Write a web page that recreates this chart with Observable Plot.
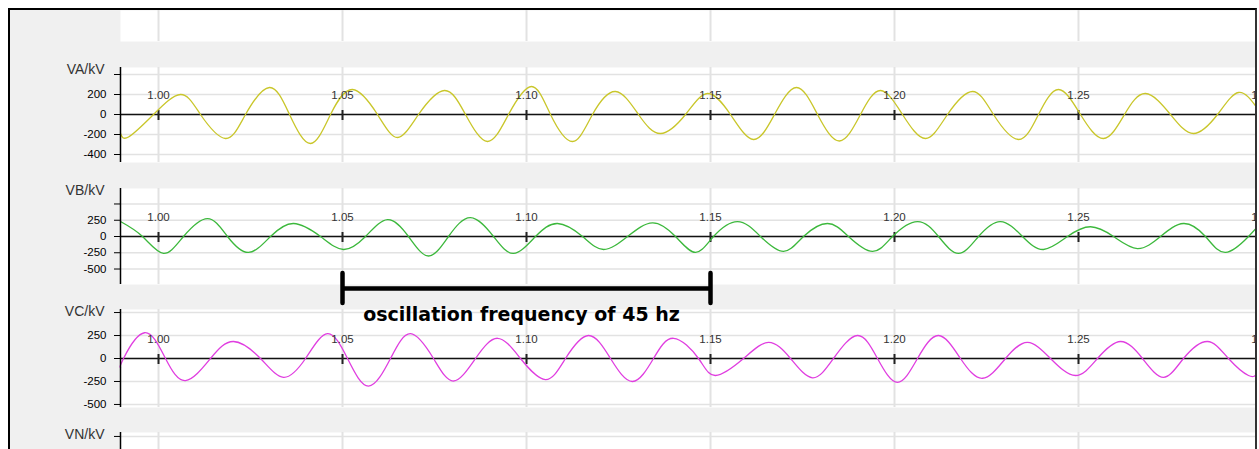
<!DOCTYPE html>
<html><head><meta charset="utf-8">
<script src="https://cdn.jsdelivr.net/npm/d3@7"></script>
<script src="https://cdn.jsdelivr.net/npm/@observablehq/plot@0.6"></script>
<style>
html,body{margin:0;padding:0;background:#fff;}
#frame{position:absolute;left:8px;top:8px;width:1245px;height:441px;border-left:2px solid #000;border-top:2px solid #000;border-right:2px solid #333;background:#f0f0f0;overflow:hidden;}
#frame svg{display:block;position:relative;}
#overlay{position:absolute;left:0;top:261px;}
</style></head><body>
<div id="frame"><div id="stack"></div><div id="overlay"></div></div>
<script>
// ---------- data ----------
const xTicks = [1.00, 1.05, 1.10, 1.15, 1.20, 1.25, 1.30];
const xTickLabels = ["1.00", "1.05", "1.10", "1.15", "1.20", "1.25", "1.30"];
const xDomain = [0.98967, 1.29810];
const panelNames = ["VA/kV", "VB/kV", "VC/kV", "VN/kV"];

const vaTime = [0.98967,0.99185,0.99864,1.00598,1.01141,1.01821,1.02364,1.03016,1.03560,1.04130,1.04674,1.05272,1.05951,1.06495,1.07065,1.07772,1.08342,1.08940,1.09511,1.10136,1.10652,1.11250,1.11793,1.12418,1.13043,1.13641,1.14321,1.14918,1.15543,1.16168,1.16739,1.17337,1.17908,1.18505,1.19076,1.19620,1.20217,1.20842,1.21440,1.22120,1.22690,1.23370,1.23913,1.24457,1.25054,1.25679,1.26250,1.26821,1.27500,1.28125,1.28777,1.29348,1.29864];
const vaValue = [-190,-225,0,200,0,-240,0,270,0,-290,0,250,0,-230,0,240,0,-270,0,280,0,-270,0,230,0,-190,0,210,0,-250,0,270,0,-265,0,240,0,-240,0,230,0,-250,0,250,0,-240,0,210,0,-190,0,220,60];

const vbTime = [0.98967,0.99565,1.00136,1.00679,1.01332,1.01875,1.02446,1.03043,1.03668,1.04402,1.05027,1.05625,1.06223,1.06793,1.07337,1.07880,1.08478,1.09103,1.09647,1.10245,1.10842,1.11522,1.12092,1.12745,1.13424,1.14049,1.14592,1.15082,1.15734,1.16359,1.16984,1.17527,1.18179,1.18750,1.19402,1.19946,1.20625,1.21196,1.21739,1.22283,1.22880,1.23478,1.24049,1.24701,1.25326,1.25951,1.26603,1.27228,1.27853,1.28451,1.28995,1.29620,1.29864];
const vbValue = [230,0,-260,0,275,0,-245,0,200,0,-200,0,260,0,-300,0,290,0,-260,0,200,0,-200,0,210,0,-245,0,230,0,-230,0,200,0,-230,0,230,0,-260,0,230,0,-200,0,150,0,-185,0,200,0,-245,0,150];

const vcTime = [0.98967,0.99049,0.99620,1.00190,1.00734,1.01413,1.02038,1.02772,1.03397,1.03995,1.04592,1.05136,1.05707,1.06304,1.06848,1.07473,1.08016,1.08614,1.09212,1.09837,1.10516,1.11060,1.11685,1.12283,1.12880,1.13451,1.13995,1.14674,1.15136,1.15897,1.16576,1.17174,1.17772,1.18342,1.18995,1.19538,1.20082,1.20625,1.21196,1.21793,1.22391,1.23016,1.23614,1.24239,1.24918,1.25516,1.26141,1.26739,1.27310,1.27853,1.28505,1.29076,1.29620,1.29864];
const vcValue = [-100,0,280,0,-240,0,185,0,-205,0,270,0,-300,0,270,0,-245,0,220,0,-230,0,250,0,-250,0,220,0,-185,0,175,0,-210,0,250,0,-260,0,250,0,-215,0,175,0,-185,0,185,0,-205,0,185,0,-185,-165];

const vaTicks = [400, 200, 0, -200, -400];
const vaTickLabels = ["", "200", "0", "-200", "-400"];
const vbTicks = [500, 250, 0, -250, -500];
const vbTickLabels = ["", "250", "0", "-250", "-500"];
const vcTicks = [500, 250, 0, -250, -500];
const vcTickLabels = ["", "250", "0", "-250", "-500"];
const vnTicks = [500];
const vnTickLabels = [""];

const vaDomain = [-480, 470];
const vbDomain = [-738, 738];
const vcDomain = [-533, 533];
const vnDomain = [358, 543];

const seriesColors = ["#c9c62a", "#3cb83c", "#e03ee0"];

const bracketEnds = [1.05, 1.15];
const annotationText = ["oscillation frequency of 45 hz"];

// ---------- drawing ----------
const W = 1245;
const baseStyle = {background: "transparent", fontFamily: "'Liberation Sans', Arial, sans-serif", fontSize: "11.5px", color: "#000", overflow: "visible"};
const gridColor = "#e2e2e2";

function panel({height, marginTop, name, time, value, color, ticks, tickLabels, domain, zero = true}) {
  const fmt = new Map(ticks.map((t, i) => [t, tickLabels[i]]));
  const rows = time ? time.map((t, i) => ({t, v: value[i]})) : [];
  const marks = [
    Plot.frame({fill: "white", stroke: "none"}),
    Plot.ruleX(xTicks, {stroke: gridColor, strokeWidth: 2}),
    Plot.ruleY(ticks, {stroke: gridColor, strokeWidth: 1.5})
  ];
  if (zero) {
    marks.push(
      Plot.ruleY([0], {stroke: "#111", strokeWidth: 1.5}),
      Plot.ruleX(xTicks, {y1: 0, y2: 0, insetTop: -4, insetBottom: -6, stroke: "#222", strokeWidth: 2}),
      Plot.line(rows, {x: "t", y: "v", stroke: color, strokeWidth: 1.3, curve: "natural"}),
      Plot.text(xTicks, {x: d => d, y: 0, text: (d, i) => xTickLabels[i], dy: -19, fill: "#333", fontSize: 11.5})
    );
  }
  marks.push(
    Plot.ruleX([xDomain[0]], {stroke: "#000", strokeWidth: 1.5}),
    Plot.text([name], {frameAnchor: "top-left", dx: -16, dy: 2, textAnchor: "end", lineAnchor: "middle", fontSize: 14, fill: "#333"})
  );
  return Plot.plot({
    width: W, height, marginLeft: 110, marginRight: 0, marginTop, marginBottom: 0,
    x: {domain: xDomain, axis: null},
    y: {domain, ticks, tickFormat: d => fmt.get(d) ?? "", tickSize: 6, tickPadding: 8, label: null},
    style: baseStyle,
    marks
  });
}

const stack = document.getElementById("stack");
// top strip (bottom of the panel above)
stack.appendChild(Plot.plot({
  width: W, height: 31, marginLeft: 110, marginRight: 0, marginTop: 0, marginBottom: 0,
  x: {domain: xDomain, axis: null},
  style: baseStyle,
  marks: [Plot.frame({fill: "white", stroke: "none"}), Plot.ruleX(xTicks, {stroke: gridColor, strokeWidth: 2})]
}));
stack.appendChild(panel({height: 121, marginTop: 26, name: panelNames[0], time: vaTime, value: vaValue, color: seriesColors[0], ticks: vaTicks, tickLabels: vaTickLabels, domain: vaDomain}));
stack.appendChild(panel({height: 122, marginTop: 26, name: panelNames[1], time: vbTime, value: vbValue, color: seriesColors[1], ticks: vbTicks, tickLabels: vbTickLabels, domain: vbDomain}));
stack.appendChild(panel({height: 123, marginTop: 25, name: panelNames[2], time: vcTime, value: vcValue, color: seriesColors[2], ticks: vcTicks, tickLabels: vcTickLabels, domain: vcDomain}));
stack.appendChild(panel({height: 42, marginTop: 25, name: panelNames[3], ticks: vnTicks, tickLabels: vnTickLabels, domain: vnDomain, zero: false}));

// annotation overlay
document.getElementById("overlay").appendChild(Plot.plot({
  width: W, height: 60, marginLeft: 110, marginRight: 0, marginTop: 2, marginBottom: 28,
  x: {domain: xDomain, axis: null},
  y: {domain: [0, 1], axis: null},
  style: {background: "transparent", overflow: "visible"},
  marks: [
    Plot.ruleY([0.5], {x1: bracketEnds[0], x2: bracketEnds[1], stroke: "#000", strokeWidth: 4.5}),
    Plot.ruleX(bracketEnds, {stroke: "#000", strokeWidth: 4.5, strokeLinecap: "round"}),
    Plot.text(annotationText, {x: (bracketEnds[0] + bracketEnds[1]) / 2, frameAnchor: "bottom", dx: -5, dy: 11, lineAnchor: "middle", fontFamily: "'DejaVu Sans', Verdana, sans-serif", fontWeight: "bold", fontSize: 19, fill: "#000"})
  ]
}));
</script>
</body></html>
